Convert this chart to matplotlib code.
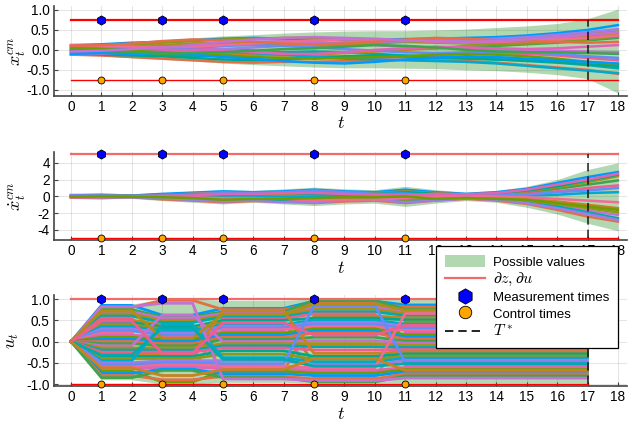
import matplotlib
matplotlib.use("Agg")
import matplotlib.pyplot as plt
from matplotlib.lines import Line2D
from matplotlib.patches import Patch

# ---------------------------------------------------------------
# data
# ---------------------------------------------------------------
T = list(range(19))
T_U = list(range(18))
MEAS_TIMES = [1, 3, 5, 8, 11]
T_STAR = 17

X_BOUND = 0.75
XD_BOUND = 5.0
U_BOUND = 1.0

# envelope ("possible values") of x_t^cm
X_UP = [0.13, 0.15, 0.2, 0.25, 0.3, 0.35, 0.38, 0.42, 0.45, 0.47, 0.48, 0.48, 0.5, 0.52, 0.56, 0.6, 0.66, 0.78, 1.02]
X_LO = [-0.13, -0.15, -0.2, -0.24, -0.28, -0.33, -0.37, -0.4, -0.43, -0.45, -0.45, -0.46, -0.47, -0.5, -0.52, -0.56, -0.62, -0.72, -1.08]

# sampled trajectories of x_t^cm
X_TRAJ = [
    [0.12, 0.14, 0.18, 0.2, 0.24, 0.28, 0.3, 0.28, 0.26, 0.24, 0.25, 0.27, 0.28, 0.3, 0.32, 0.36, 0.42, 0.5, 0.62],
    [-0.12, -0.14, -0.18, -0.22, -0.26, -0.3, -0.32, -0.3, -0.3, -0.28, -0.26, -0.25, -0.26, -0.28, -0.32, -0.38, -0.44, -0.5, -0.6],
    [0.08, 0.1, 0.12, 0.1, 0.06, 0.02, -0.02, -0.06, -0.08, -0.06, -0.02, 0.02, 0.04, 0.06, 0.1, 0.14, 0.18, 0.24, 0.3],
    [-0.08, -0.06, -0.02, 0.04, 0.1, 0.16, 0.2, 0.22, 0.2, 0.16, 0.12, 0.08, 0.06, 0.04, 0.02, 0.0, -0.02, -0.04, -0.06],
    [0.04, 0.06, 0.08, 0.12, 0.16, 0.18, 0.16, 0.12, 0.1, 0.12, 0.16, 0.2, 0.22, 0.24, 0.26, 0.3, 0.34, 0.4, 0.46],
    [-0.04, -0.06, -0.1, -0.14, -0.16, -0.14, -0.1, -0.06, -0.04, -0.06, -0.1, -0.14, -0.16, -0.2, -0.24, -0.28, -0.32, -0.38, -0.46],
    [0.0, 0.02, 0.04, 0.06, 0.04, 0.0, -0.04, -0.1, -0.14, -0.18, -0.2, -0.18, -0.14, -0.1, -0.08, -0.1, -0.14, -0.2, -0.26],
    [0.1, 0.08, 0.04, 0.0, -0.04, -0.08, -0.12, -0.14, -0.12, -0.08, -0.04, 0.0, 0.04, 0.1, 0.16, 0.2, 0.26, 0.34, 0.4],
    [-0.1, -0.12, -0.14, -0.16, -0.2, -0.24, -0.26, -0.24, -0.2, -0.16, -0.14, -0.16, -0.2, -0.22, -0.24, -0.26, -0.3, -0.36, -0.4],
    [0.06, 0.1, 0.14, 0.18, 0.22, 0.26, 0.28, 0.3, 0.3, 0.28, 0.24, 0.2, 0.18, 0.16, 0.14, 0.16, 0.2, 0.26, 0.34],
    [-0.02, 0.0, 0.02, 0.02, 0.0, -0.04, -0.08, -0.12, -0.18, -0.22, -0.24, -0.26, -0.28, -0.3, -0.34, -0.4, -0.46, -0.52, -0.58],
    [0.02, 0.0, -0.02, -0.04, -0.02, 0.02, 0.06, 0.1, 0.14, 0.18, 0.2, 0.22, 0.24, 0.26, 0.28, 0.32, 0.38, 0.44, 0.52],
    [-0.06, -0.04, 0.0, 0.02, 0.06, 0.1, 0.12, 0.1, 0.06, 0.02, -0.02, -0.06, -0.08, -0.06, -0.04, -0.06, -0.1, -0.16, -0.2],
    [0.12, 0.1, 0.08, 0.06, 0.08, 0.12, 0.16, 0.2, 0.24, 0.26, 0.26, 0.24, 0.2, 0.18, 0.2, 0.22, 0.26, 0.3, 0.36],
    [-0.12, -0.1, -0.06, -0.02, 0.0, -0.02, -0.06, -0.1, -0.1, -0.06, 0.0, 0.04, 0.08, 0.06, 0.04, 0.02, 0.04, 0.08, 0.12],
    [0.04, 0.02, -0.02, -0.06, -0.1, -0.14, -0.18, -0.2, -0.22, -0.2, -0.18, -0.16, -0.12, -0.1, -0.12, -0.16, -0.22, -0.3, -0.36],
    [-0.1, -0.08, -0.1, -0.1, -0.12, -0.18, -0.22, -0.28, -0.32, -0.34, -0.3, -0.24, -0.2, -0.16, -0.18, -0.22, -0.26, -0.3, -0.34],
    [0.1, 0.12, 0.16, 0.22, 0.26, 0.24, 0.2, 0.16, 0.14, 0.16, 0.2, 0.26, 0.3, 0.28, 0.24, 0.22, 0.2, 0.18, 0.2],
    [0.0, -0.02, -0.06, -0.1, -0.08, -0.06, -0.02, 0.02, 0.04, 0.08, 0.12, 0.1, 0.06, 0.0, -0.04, -0.06, -0.06, -0.08, -0.1],
    [-0.04, -0.02, 0.02, 0.06, 0.12, 0.2, 0.26, 0.3, 0.32, 0.3, 0.28, 0.24, 0.22, 0.2, 0.22, 0.26, 0.32, 0.38, 0.44],
]

# envelope of the velocity
XD_UP = [0.25, 0.3, 0.25, 0.4, 0.6, 0.8, 0.7, 0.9, 1.1, 0.9, 0.8, 1.2, 0.8, 0.5, 0.7, 1.2, 2.0, 3.2, 4.0]
XD_LO = [-0.25, -0.3, -0.25, -0.5, -0.7, -0.9, -0.7, -0.9, -1.1, -0.9, -0.8, -1.2, -0.8, -0.5, -0.7, -1.3, -2.1, -3.2, -4.1]

XD_TRAJ = [
    [0.15, 0.2, 0.1, 0.3, 0.45, 0.6, 0.5, 0.6, 0.8, 0.6, 0.5, 0.8, 0.5, 0.3, 0.5, 0.9, 1.6, 2.3, 2.9],
    [-0.15, -0.2, -0.1, -0.35, -0.5, -0.7, -0.55, -0.6, -0.8, -0.6, -0.5, -0.8, -0.5, -0.3, -0.5, -0.9, -1.6, -2.4, -3.0],
    [0.1, 0.05, 0.0, -0.1, -0.2, -0.35, -0.3, -0.4, -0.6, -0.4, -0.3, -0.5, -0.3, -0.1, 0.1, 0.4, 0.9, 1.4, 1.9],
    [-0.1, 0.0, 0.05, 0.15, 0.3, 0.45, 0.35, 0.4, 0.5, 0.3, 0.1, -0.2, -0.2, -0.2, -0.3, -0.6, -1.1, -1.7, -2.2],
    [0.05, 0.1, 0.05, 0.2, 0.3, 0.3, 0.2, 0.3, 0.6, 0.5, 0.4, 0.6, 0.4, 0.2, 0.3, 0.6, 1.1, 1.7, 2.4],
    [-0.05, -0.1, -0.05, -0.2, -0.35, -0.5, -0.4, -0.5, -0.4, -0.3, -0.2, -0.6, -0.4, -0.2, -0.3, -0.7, -1.2, -1.9, -2.6],
    [0.0, 0.1, 0.1, 0.1, 0.0, -0.1, -0.1, -0.2, -0.3, -0.2, -0.1, 0.2, 0.2, 0.1, 0.2, 0.3, 0.6, 1.0, 1.3],
    [0.1, 0.15, 0.05, 0.0, 0.1, 0.2, 0.1, 0.2, 0.3, 0.1, 0.0, -0.3, -0.1, 0.0, -0.1, -0.3, -0.6, -1.0, -1.4],
    [-0.1, -0.05, 0.0, 0.1, 0.15, 0.0, -0.1, 0.0, 0.2, 0.2, 0.3, 0.5, 0.3, 0.2, 0.4, 0.7, 1.2, 1.9, 2.6],
    [0.05, 0.0, -0.05, -0.2, -0.3, -0.2, 0.0, 0.1, 0.0, -0.1, -0.2, -0.4, -0.2, -0.1, -0.2, -0.5, -0.9, -1.4, -1.9],
    [-0.05, 0.05, 0.1, 0.2, 0.2, 0.1, 0.0, -0.1, -0.1, 0.0, 0.2, 0.4, 0.1, 0.0, 0.0, 0.1, 0.2, 0.4, 0.5],
    [0.0, -0.1, -0.1, -0.25, -0.4, -0.6, -0.5, -0.7, -0.7, -0.5, -0.4, -0.7, -0.5, -0.25, -0.4, -0.8, -1.4, -2.1, -2.8],
    [0.15, 0.1, 0.0, 0.05, 0.2, 0.4, 0.4, 0.5, 0.7, 0.5, 0.3, 0.3, 0.1, 0.0, 0.1, 0.2, 0.5, 0.7, 1.0],
    [-0.15, -0.1, 0.0, 0.0, -0.1, -0.2, -0.2, -0.3, -0.5, -0.4, -0.4, -0.2, 0.0, 0.1, 0.0, -0.1, -0.3, -0.5, -0.7],
    [0.05, 0.0, 0.05, 0.1, 0.1, 0.3, 0.3, 0.4, 0.4, 0.3, 0.2, 0.1, 0.3, 0.25, 0.4, 0.8, 1.4, 2.0, 2.7],
    [-0.05, 0.0, -0.05, -0.1, -0.2, -0.4, -0.3, -0.3, -0.2, -0.1, -0.1, 0.0, -0.3, -0.2, -0.3, -0.4, -0.8, -1.2, -1.6],
]

# envelope of the control (t = 0..17)
U_UP = [0.0, 0.88, 0.88, 1.0, 1.0, 0.97, 0.97, 0.97, 1.0, 1.0, 1.0, 1.0, 1.0, 1.0, 1.0, 1.0, 1.0, 1.0]
U_LO = [0.0, -0.9, -0.9, -1.0, -1.0, -0.96, -0.96, -0.96, -0.98, -0.98, -0.98, -0.98, -0.98, -0.98, -0.98, -0.98, -0.98, -0.98]

# control levels held on [1,2], [3,4], [5,7], [8,10], [11,17]
U_HOLD = [1, 1, 2, 2, 3, 3, 3, 4, 4, 4, 5, 5, 5, 5, 5, 5, 5]
U_LEVELS = [
    [0.85, 0.62, 0.78, 0.95, 0.86],
    [0.80, 0.97, 0.75, 0.90, 0.81],
    [0.75, 0.58, 0.70, 0.97, 0.76],
    [0.70, 0.55, 0.66, 0.82, 0.71],
    [0.65, 0.50, 0.62, 0.76, 0.66],
    [0.60, 0.45, 0.58, 0.70, 0.61],
    [0.55, -0.40, 0.54, 0.65, -0.56],
    [0.50, 0.40, -0.70, 0.60, 0.56],
    [0.45, 0.35, 0.50, 0.55, 0.51],
    [0.40, 0.30, 0.45, -0.50, 0.46],
    [0.35, 0.25, 0.40, 0.50, 0.41],
    [0.30, 0.20, 0.36, 0.45, 0.36],
    [0.25, 0.15, 0.32, 0.40, 0.31],
    [0.20, -0.62, 0.28, 0.35, 0.26],
    [0.15, 0.10, 0.24, -0.85, 0.21],
    [0.10, 0.05, 0.20, 0.30, 0.16],
    [0.05, 0.00, 0.15, 0.25, 0.11],
    [0.00, -0.05, 0.10, 0.20, 0.06],
    [-0.05, -0.10, 0.05, 0.10, 0.01],
    [-0.10, 0.62, 0.00, 0.02, -0.04],
    [-0.15, -0.15, -0.05, -0.05, -0.09],
    [-0.20, -0.20, -0.10, -0.12, -0.14],
    [-0.25, -0.25, -0.15, -0.20, -0.19],
    [-0.30, -0.30, 0.72, -0.28, -0.24],
    [-0.35, -0.35, -0.22, -0.35, -0.29],
    [-0.40, -0.40, -0.30, -0.42, -0.34],
    [-0.45, 0.40, -0.38, -0.48, -0.39],
    [-0.50, -0.45, -0.45, -0.55, -0.44],
    [-0.55, -0.50, -0.52, 0.85, -0.49],
    [-0.60, -0.55, -0.58, -0.62, 0.66],
    [-0.65, -0.60, -0.64, -0.68, -0.61],
    [-0.70, -0.95, -0.70, -0.74, -0.66],
    [-0.75, -0.65, -0.76, -0.80, -0.71],
    [-0.80, -0.90, -0.82, -0.88, -0.76],
    [-0.85, -0.68, -0.85, -0.95, -0.81],
    [0.82, 0.90, -0.88, -0.92, -0.86],
    [0.72, 0.08, 0.64, 0.88, 0.74],
    [-0.32, 0.32, -0.42, -0.58, -0.52],
    [0.48, -0.28, 0.44, 0.15, 0.38],
    [-0.62, -0.80, -0.66, -0.40, -0.68],
]

PALETTE = ["#009AFA", "#E36F47", "#3EA44E", "#C371D2", "#AC8E18", "#00AAAE",
           "#ED5E93", "#C68225", "#00A98D", "#8E971E", "#00A9CD", "#9B7FE8",
           "#618DF6", "#F16C95", "#DE65B5", "#6D9E00"]
LIGHT_RED = "#F26B6B"


def style_axes(ax, ylim, yticks):
    ax.set_xlim(-0.56, 18.3)
    ax.set_ylim(*ylim)
    ax.set_xticks(T)
    ax.set_yticks(yticks)
    ax.grid(True, color="black", alpha=0.1, linewidth=0.8)
    ax.set_axisbelow(True)
    for side in ("top", "right"):
        ax.spines[side].set_visible(False)
    for side in ("left", "bottom"):
        ax.spines[side].set_color("#444444")
        ax.spines[side].set_linewidth(1.2)
    ax.tick_params(direction="in", length=3, width=0.8, color="#444444",
                   labelsize=9.8, labelcolor="black", pad=3)
    ax.set_xlabel("$t$", fontsize=13, labelpad=1)


def draw_panel(ax, t, up, lo, trajs, bound, t_end, upper_color, lw):
    ax.fill_between(t, lo, up, color="green", alpha=0.3, linewidth=0, zorder=1)
    for i, tr in enumerate(trajs):
        ax.plot(t, tr, color=PALETTE[i % len(PALETTE)], linewidth=lw, zorder=2)
    ax.plot([0, t_end], [bound, bound], color=upper_color, linewidth=1.6, zorder=3)
    ax.plot([0, t_end], [-bound, -bound], color="red", linewidth=1.0, zorder=3)
    ax.plot([T_STAR, T_STAR], [-bound, bound], color="black", linestyle=(0, (5, 3)),
            linewidth=1.2, alpha=0.8, zorder=3)
    ax.plot(MEAS_TIMES, [bound] * len(MEAS_TIMES), linestyle="none", marker="h",
            markersize=6.6, markerfacecolor="blue", markeredgecolor="black",
            markeredgewidth=0.6, zorder=4, clip_on=False)
    ax.plot(MEAS_TIMES, [-bound] * len(MEAS_TIMES), linestyle="none", marker="o",
            markersize=5.0, markerfacecolor="orange", markeredgecolor="black",
            markeredgewidth=0.6, zorder=4, clip_on=False)


def main():
    plt.rcParams["mathtext.fontset"] = "cm"
    plt.rcParams["font.family"] = ["Liberation Sans", "DejaVu Sans"]
    plt.rcParams["axes.unicode_minus"] = False

    fig = plt.figure(figsize=(6.29, 4.24), dpi=100)
    ax1 = fig.add_axes([0.0859, 0.774, 0.911, 0.212])
    ax2 = fig.add_axes([0.0859, 0.434, 0.911, 0.208])
    ax3 = fig.add_axes([0.0859, 0.0896, 0.911, 0.2146])

    # x_t^cm
    draw_panel(ax1, T, X_UP, X_LO, X_TRAJ, X_BOUND, 18, "red", 1.8)
    style_axes(ax1, (-1.15, 1.1), [-1.0, -0.5, 0.0, 0.5, 1.0])
    ax1.set_yticklabels(["-1.0", "-0.5", "0.0", "0.5", "1.0"])
    ax1.set_ylabel(r"$x_t^{cm}$", fontsize=13)
    ax1.yaxis.set_label_coords(-0.045, 0.5)

    # velocity
    draw_panel(ax2, T, XD_UP, XD_LO, XD_TRAJ, XD_BOUND, 18, LIGHT_RED, 1.8)
    style_axes(ax2, (-5.19, 5.31), [-4, -2, 0, 2, 4])
    ax2.set_ylabel(r"$\dot{x}_t^{cm}$", fontsize=13)
    ax2.yaxis.set_label_coords(-0.045, 0.5)

    # control
    u_traj = [[0.0] + [lv[h - 1] for h in U_HOLD] for lv in U_LEVELS]
    draw_panel(ax3, T_U, U_UP, U_LO, u_traj, U_BOUND, 17, LIGHT_RED, 2.0)
    style_axes(ax3, (-1.047, 1.094), [-1.0, -0.5, 0.0, 0.5, 1.0])
    ax3.set_yticklabels(["-1.0", "-0.5", "0.0", "0.5", "1.0"])
    ax3.set_ylabel(r"$u_t$", fontsize=13)
    ax3.yaxis.set_label_coords(-0.058, 0.5)

    handles = [
        Patch(facecolor="green", alpha=0.3, edgecolor="none"),
        Line2D([], [], color=LIGHT_RED, linewidth=1.6),
        Line2D([], [], linestyle="none", marker="h", markersize=11,
               markerfacecolor="blue", markeredgecolor="black", markeredgewidth=0.6),
        Line2D([], [], linestyle="none", marker="o", markersize=9,
               markerfacecolor="orange", markeredgecolor="black", markeredgewidth=0.6),
        Line2D([], [], color="black", linestyle=(0, (5, 3)), linewidth=1.2),
    ]
    labels = ["Possible values", r"$\partial z, \partial u$", "Measurement times",
              "Control times", r"$T^*$"]
    leg = fig.legend(handles, labels, loc="upper left",
                     bbox_to_anchor=(436 / 629, 1 - 246 / 424), fontsize=9.5,
                     frameon=True, fancybox=False, framealpha=1, edgecolor="black",
                     handlelength=3.0, handleheight=1.0, labelspacing=0.2,
                     borderpad=0.7, borderaxespad=0, handletextpad=0.6)
    leg.get_frame().set_linewidth(0.9)
    leg.set_zorder(10)
    for i in (1, 4):
        leg.get_texts()[i].set_fontsize(11.5)

    fig.savefig("out.png", dpi=100)


if __name__ == "__main__":
    main()
